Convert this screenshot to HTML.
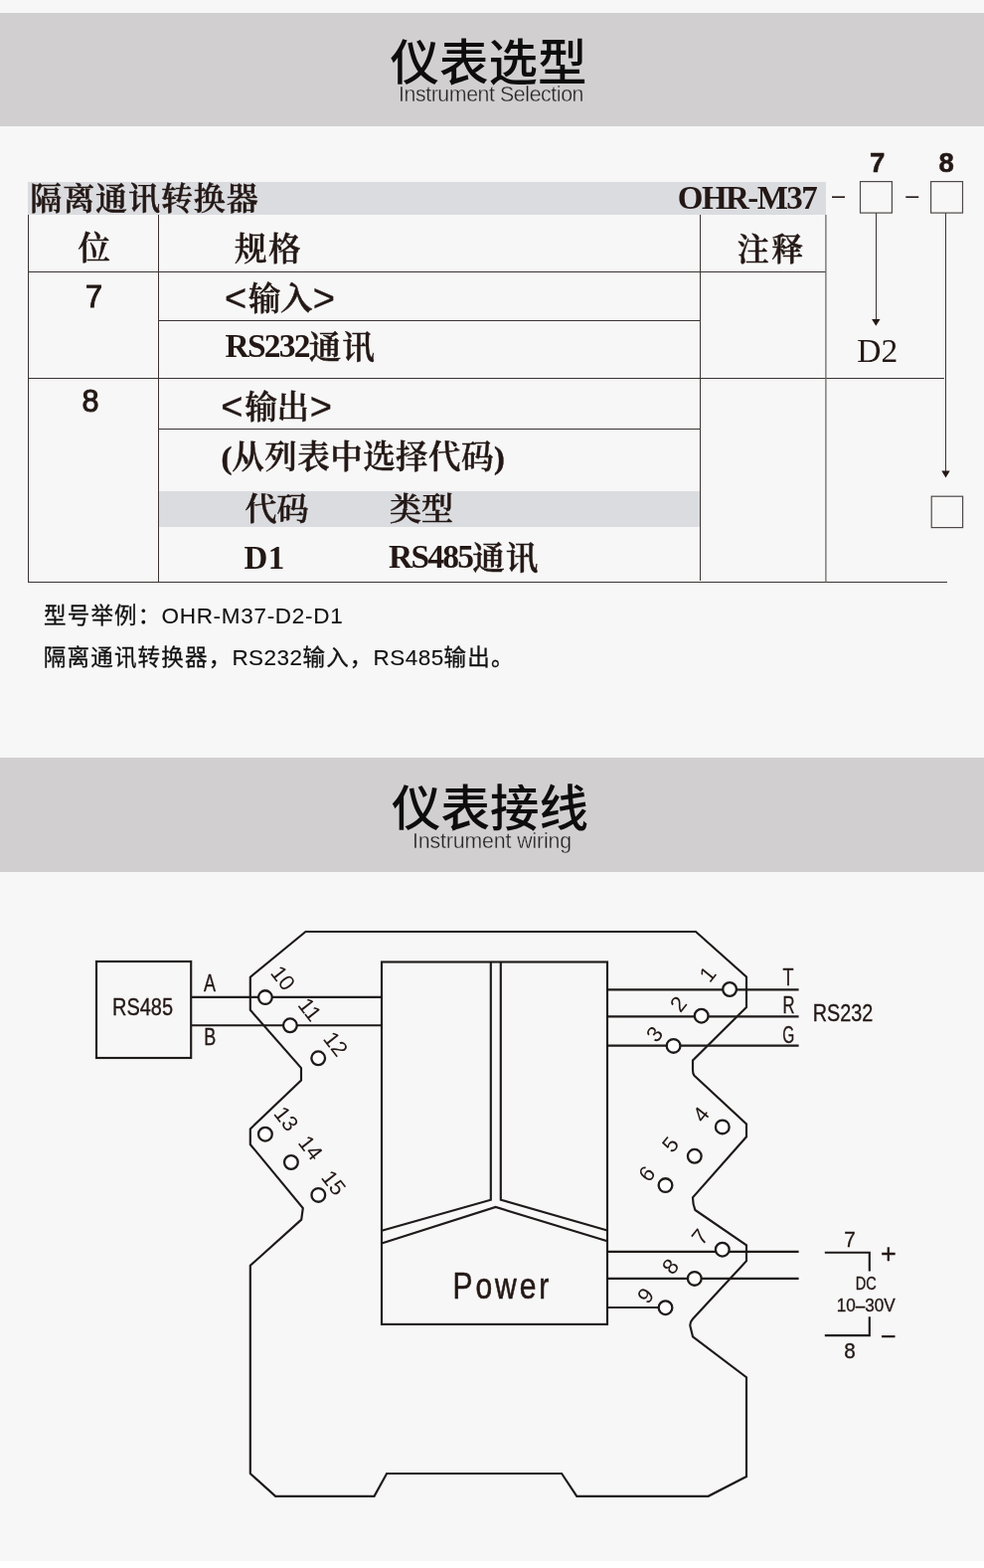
<!DOCTYPE html>
<html lang="zh-CN">
<head>
<meta charset="utf-8">
<title>仪表选型 / 仪表接线</title>
<style>
html,body{margin:0;padding:0;}
html{background:#f7f7f7;}
body{width:990px;height:1577px;background:#f7f7f7;position:relative;overflow:hidden;color:#231815;will-change:transform;
  font-family:"Liberation Sans","Noto Sans CJK SC",sans-serif;}
.abs{position:absolute;white-space:nowrap;line-height:1;}
.banner{position:absolute;left:0;width:990px;height:114.5px;background:#d1cfd0;}
.title{position:absolute;left:0;width:990px;text-align:center;white-space:nowrap;line-height:1;color:#0d0d0d;
  font-family:"Liberation Sans","Noto Sans CJK SC",sans-serif;font-weight:500;font-size:49.5px;}
.sub{position:absolute;left:0;width:990px;text-align:center;white-space:nowrap;line-height:1;color:#222;-webkit-text-stroke:0.35px #d1cfd0;
  font-family:"Liberation Sans","Noto Sans CJK SC",sans-serif;font-weight:400;font-size:20.4px;}
.kai{font-family:"Liberation Serif","Noto Serif CJK SC",serif;font-weight:600;color:#231815;-webkit-text-stroke:0.45px #231815;}
.hl{position:absolute;height:1px;background:#3a3433;}
.vl{position:absolute;width:1px;background:#3a3433;}
.bar{position:absolute;background:#dbdce0;}
.note{font-size:22.5px;letter-spacing:1.2px;color:#111;-webkit-text-stroke:0.3px #111;}
.nl{letter-spacing:0.45px;-webkit-text-stroke:0.1px #111;}
.num{font-family:"Liberation Sans","Noto Sans CJK SC",sans-serif;font-weight:400;-webkit-text-stroke:1px #231815;}
.br{font-family:"Liberation Sans",sans-serif;font-weight:400;-webkit-text-stroke:0.35px #231815;font-size:38px;line-height:0;letter-spacing:0;position:relative;top:1.2px;}
.lat{letter-spacing:-1.75px;font-size:33.5px;position:relative;top:-2px;font-weight:700;-webkit-text-stroke:0;}
.par{letter-spacing:0;}
svg{position:absolute;left:0;top:0;}
svg text{font-family:"Liberation Sans","Noto Sans CJK SC",sans-serif;fill:#231815;stroke:#231815;stroke-width:0.35px;}
svg .rot text{stroke:none;}
</style>
</head>
<body>
<!-- ===== Section 1 : selection ===== -->
<div class="banner" style="top:12.5px"></div>
<div id="t1" class="title" style="top:39px;left:-3.5px">仪表选型</div>
<div id="s1" class="sub" style="top:84.7px;left:-1px;font-size:21.3px;letter-spacing:-0.4px">Instrument Selection</div>

<div class="bar" style="left:28px;top:183px;width:803px;height:33px"></div>
<div id="hdr" class="abs kai" style="left:30.3px;top:184.3px;font-size:32px;letter-spacing:0.9px">隔离通讯转换器</div>
<div id="ohr" class="abs kai" style="left:681.8px;top:182.6px;font-size:33px;letter-spacing:-1.55px;font-weight:700;-webkit-text-stroke:0">OHR-M37</div>

<div id="ds1" class="abs" style="left:837px;top:185px;font-size:23.4px">–</div>
<div id="ds2" class="abs" style="left:911.3px;top:185px;font-size:23.4px">–</div>
<div id="b7" class="abs" style="left:875.1px;top:150.1px;font-size:27.6px;font-weight:700;-webkit-text-stroke:0.5px #231815">7</div>
<div id="b8" class="abs" style="left:944.6px;top:150.1px;font-size:27.6px;font-weight:700;-webkit-text-stroke:0.5px #231815">8</div>

<!-- table lines -->
<div class="vl" style="left:28px;top:216px;height:369px"></div>
<div class="vl" style="left:159px;top:216px;height:369px"></div>
<div class="vl" style="left:704px;top:216px;height:367.5px"></div>
<div class="hl" style="left:28px;top:273px;width:803px"></div>
<div class="hl" style="left:159px;top:322px;width:545px"></div>
<div class="hl" style="left:28px;top:380px;width:922px"></div>
<div class="hl" style="left:159px;top:431px;width:545px"></div>
<div class="hl" style="left:28px;top:585px;width:925px"></div>
<div class="bar" style="left:160px;top:494px;width:544px;height:35.5px"></div>

<!-- arrows -->
<div class="vl" style="left:881px;top:214px;height:108px"></div>
<div class="vl" style="left:951px;top:214px;height:260px"></div>
<svg width="990" height="1577" viewBox="0 0 990 1577">
  <path d="M877.1 321h8.4l-4.2 6.7z" fill="#231815"/>
  <path d="M947.3 473.6h8.4l-4.2 6.9z" fill="#231815"/>
  <path d="M830.9 216V585.5" stroke="#6f6a69" stroke-width="1.3" fill="none"/>
  <g fill="none" stroke="#4f4a49" stroke-width="1.2">
    <rect x="865.5" y="182.6" width="31.9" height="31.5"/>
    <rect x="936.6" y="182.6" width="31.9" height="31.5"/>
    <rect x="937.2" y="499.2" width="31.4" height="31.4"/>
  </g>
</svg>
<div id="d2" class="abs" style="left:862.3px;top:336.3px;font-size:33.5px;font-family:'Liberation Serif',serif">D2</div>

<!-- table text -->
<div id="wei" class="abs kai" style="left:78.6px;top:234.3px;font-size:32.5px">位</div>
<div id="gg" class="abs kai" style="left:236px;top:234.5px;font-size:32.5px;letter-spacing:1.5px">规格</div>
<div id="zs" class="abs kai" style="left:741.8px;top:235px;font-size:32px;letter-spacing:2.5px">注释</div>
<div id="n7" class="abs num" style="left:86px;top:283.1px;font-size:30.6px">7</div>
<div id="n8" class="abs num" style="left:82.4px;top:388.3px;font-size:30.6px">8</div>
<div id="in" class="abs kai" style="left:226px;top:284.6px;font-size:32.5px"><span class="br">&lt;</span><span id="in2" style="letter-spacing:-0.5px;margin-left:1.9px">输入</span><span class="br" style="margin-left:0.6px">&gt;</span></div>
<div id="rs232" class="abs kai" style="left:226.5px;top:332.5px;font-size:32.5px"><span id="rs232l" class="lat">RS232</span><span style="letter-spacing:1px">通讯</span></div>
<div id="out" class="abs kai" style="left:222.3px;top:394.2px;font-size:32.5px"><span class="br">&lt;</span><span id="out2" style="letter-spacing:-0.5px;margin-left:1.9px">输出</span><span class="br" style="margin-left:1.4px">&gt;</span></div>
<div id="sel" class="abs kai" style="left:222.5px;top:444.2px;font-size:32.5px;letter-spacing:0.45px"><span class="par">(</span>从列表中选择代码<span class="par">)</span></div>
<div id="dm" class="abs kai" style="left:246.5px;top:495.5px;font-size:32px">代码</div>
<div id="lx" class="abs kai" style="left:392px;top:495.5px;font-size:32px">类型</div>
<div id="d1" class="abs kai" style="left:245.5px;top:544.8px;font-size:33px;letter-spacing:0.3px;font-weight:700;-webkit-text-stroke:0">D1</div>
<div id="rs485" class="abs kai" style="left:391px;top:545.2px;font-size:32.5px"><span id="rs485l" class="lat">RS485</span><span style="letter-spacing:1px">通讯</span></div>

<div id="note1" class="abs note" style="left:44px;top:609.2px">型号举例：<span class="nl" style="letter-spacing:0.7px">OHR-M37-D2-D1</span></div>
<div id="note2" class="abs note" style="left:43.8px;top:651.2px">隔离通讯转换器，<span class="nl">RS232</span>输入，<span class="nl">RS485</span>输出。</div>

<div style="position:absolute;left:0;top:1570px;width:990px;height:7px;background:#fff"></div>
<!-- ===== Section 2 : wiring ===== -->
<div class="banner" style="top:762px"></div>
<div id="t2" class="title" style="top:789.3px;left:-2px">仪表接线</div>
<div id="s2" class="sub" style="top:836.4px;left:0px;font-size:21.3px;letter-spacing:-0.12px">Instrument wiring</div>

<svg id="wiring" width="990" height="1577" viewBox="0 0 990 1577">
  <g fill="none" stroke="#1e1a19" stroke-width="2.15" stroke-linejoin="miter">
    <!-- housing outline -->
    <path d="M307.5 937H700L751 982.5V1013L697 1066.4V1076Q697 1080 698.5 1081.8L751 1130.4V1143.3L697 1204.4Q697 1211 699.4 1217L751 1252.4V1268.2L697 1326.5Q693.5 1330.5 694.6 1334.5L697 1344.3L751 1385.2V1485L712.6 1504.8H580.3L565.1 1482H389.1L376.5 1504.8H277.2L251.8 1482.1V1272.8L303.2 1226.6L304.8 1215L251.8 1151V1135.4L303 1086.5V1074.1L251.8 1015.8V982.7Z"/>
    <!-- inner module -->
    <rect x="384" y="967.5" width="227" height="364.4"/>
    <path d="M493.8 967.5V1206.7L384 1237.8"/>
    <path d="M503.8 967.5V1206.7L611 1237.5"/>
    <path d="M384 1250.6L498.7 1214L611 1248.3"/>
    <!-- RS485 box -->
    <rect x="97" y="967" width="95.2" height="97"/>
    <!-- wires -->
    <path d="M192 1002.9H384M192 1031.2H384"/>
    <path d="M611 995.3H803.6M611 1022.4H803.6M611 1051.6H803.6"/>
    <path d="M611 1258.9H803.6M611 1285.9H803.6M611 1315H669"/>
    <!-- DC bracket -->
    <path d="M829.8 1259.7H874.8V1278.5M874.8 1324.2V1343.1H829.8"/>
  </g>
  <g fill="#fff" stroke="#1e1a19" stroke-width="2.3">
    <circle cx="266.9" cy="1003.1" r="6.85"/>
    <circle cx="291.9" cy="1031.3" r="6.85"/>
    <circle cx="320.2" cy="1064.3" r="6.85"/>
    <circle cx="266.9" cy="1140.7" r="6.85"/>
    <circle cx="292.9" cy="1169" r="6.85"/>
    <circle cx="320.3" cy="1201.9" r="6.85"/>
    <circle cx="734.1" cy="995" r="6.85"/>
    <circle cx="705.7" cy="1021.7" r="6.85"/>
    <circle cx="677.6" cy="1051.9" r="6.85"/>
    <circle cx="726.8" cy="1133.4" r="6.85"/>
    <circle cx="698.8" cy="1162.8" r="6.85"/>
    <circle cx="669.5" cy="1192.1" r="6.85"/>
    <circle cx="726.8" cy="1256.7" r="6.85"/>
    <circle cx="698.8" cy="1285.9" r="6.85"/>
    <circle cx="669.5" cy="1315.2" r="6.85"/>
  </g>
  <g font-size="23.5" text-anchor="middle">
    <text id="x485" x="143.55" y="1020.6" textLength="61" lengthAdjust="spacingAndGlyphs">RS485</text>
    <text id="xA" x="211" y="996.7" textLength="12" lengthAdjust="spacingAndGlyphs">A</text>
    <text id="xB" x="211.3" y="1051.3" textLength="12" lengthAdjust="spacingAndGlyphs">B</text>
    <text id="xT" x="793.1" y="990.5" textLength="11" lengthAdjust="spacingAndGlyphs">T</text>
    <text id="xR" x="793.6" y="1018.8" textLength="12" lengthAdjust="spacingAndGlyphs">R</text>
    <text id="xG" x="793.3" y="1048.7" textLength="12" lengthAdjust="spacingAndGlyphs">G</text>
    <text id="x232" x="848" y="1026.5" textLength="60.5" lengthAdjust="spacingAndGlyphs">RS232</text>
    <text id="x7" x="855.1" y="1254.4" font-size="22.3" textLength="11.5" lengthAdjust="spacingAndGlyphs">7</text>
    <text id="x8" x="854.9" y="1366.3" font-size="22.3" textLength="11.5" lengthAdjust="spacingAndGlyphs">8</text>
  </g>
  <g font-size="18.5" text-anchor="middle">
    <text id="xDC" x="871.3" y="1297.4" textLength="21" lengthAdjust="spacingAndGlyphs">DC</text>
    <text id="xV" x="871.2" y="1318.8" textLength="59" lengthAdjust="spacingAndGlyphs">10–30V</text>
  </g>
  <text id="xplus" x="893.9" y="1269.7" font-size="27" text-anchor="middle">+</text>
  <text id="xminus" x="893.9" y="1353" font-size="27" text-anchor="middle">−</text>
  <text id="xpow" transform="translate(505.4 1306.3) scale(0.8 1)" font-size="37.5" text-anchor="middle" letter-spacing="3.7" style="stroke-width:0.6px">Power</text>
  <g class="rot" font-size="22" text-anchor="middle">
    <text id="L10" transform="translate(285.1 983.4) rotate(52)" y="7.9">10</text>
    <text id="L11" transform="translate(311.9 1015.1) rotate(52)" y="7.9">11</text>
    <text id="L12" transform="translate(338.1 1049.7) rotate(52)" y="7.9">12</text>
    <text id="L13" transform="translate(288.3 1125) rotate(52)" y="7.9">13</text>
    <text id="L14" transform="translate(312.8 1154.2) rotate(52)" y="7.9">14</text>
    <text id="L15" transform="translate(336 1189.3) rotate(52)" y="7.9">15</text>
    <text id="L1" transform="translate(711.6 979.4) rotate(-51)" y="7.9">1</text>
    <text id="L2" transform="translate(682.3 1009.4) rotate(-51)" y="7.9">2</text>
    <text id="L3" transform="translate(658.3 1039.8) rotate(-51)" y="7.9">3</text>
    <text id="L4" transform="translate(705 1120.5) rotate(-51)" y="7.9">4</text>
    <text id="L5" transform="translate(674.1 1150.8) rotate(-51)" y="7.9">5</text>
    <text id="L6" transform="translate(650.5 1180.2) rotate(-51)" y="7.9">6</text>
    <text id="L7" transform="translate(704 1243.8) rotate(-51)" y="7.9">7</text>
    <text id="L8" transform="translate(674.3 1273.5) rotate(-51)" y="7.9">8</text>
    <text id="L9" transform="translate(649.1 1302.8) rotate(-51)" y="7.9">9</text>
  </g>
</svg>
</body>
</html>
